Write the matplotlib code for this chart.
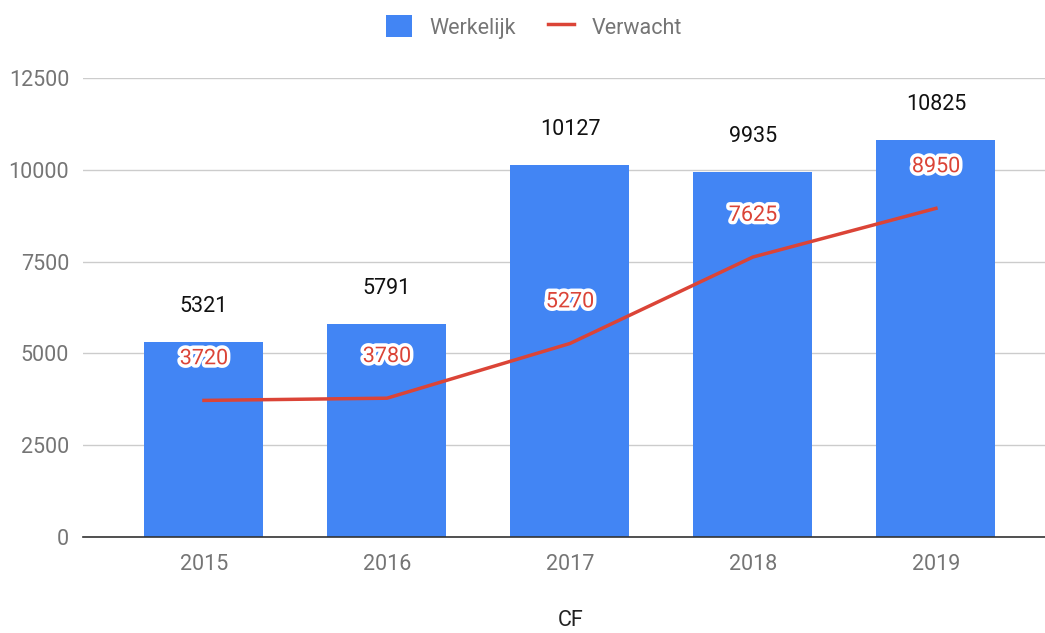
import matplotlib
matplotlib.use("Agg")
import matplotlib.pyplot as plt
import matplotlib.patheffects as pe
import numpy as np

plt.rcParams['font.family'] = ['Roboto', 'DejaVu Sans']

years = ["2015", "2016", "2017", "2018", "2019"]
werkelijk = [5321, 5791, 10127, 9935, 10825]
verwacht = [3720, 3780, 5270, 7625, 8950]
yticks = [0, 2500, 5000, 7500, 10000, 12500]

fig = plt.figure(figsize=(10.45, 6.33), dpi=100)
ax = fig.add_axes([83/1045, 1 - 537/633, (1045-83)/1045, (537-78)/633])
x = np.arange(len(years))
bars = ax.bar(x, werkelijk, width=0.65, color="#4285f4", label="Werkelijk", zorder=2)
line, = ax.plot(x, verwacht, color="#db4437", lw=2.5, label="Verwacht", zorder=3)

for xi, v in zip(x, werkelijk):
    ax.annotate(str(v), (xi, v), xytext=(0, 25.5), textcoords="offset points",
                ha="center", va="center", fontsize=15.5, color="#111111")
for xi, v in zip(x, verwacht):
    t = ax.annotate(str(v), (xi, v), xytext=(0, 30), textcoords="offset points",
                    ha="center", va="center", fontsize=15.5, color="#db4437", zorder=4)
    t.set_path_effects([pe.withStroke(linewidth=5, foreground="white")])

ax.set_xlim(-0.661, 4.596)
ax.set_ylim(0, 12500)
ax.set_yticks(yticks)
ax.set_yticklabels([str(t) for t in yticks])
ax.set_xticks(x)
ax.set_xticklabels(years)
ax.tick_params(axis="both", length=0, labelsize=15.5, colors="#757575")
ax.tick_params(axis="y", pad=10)
ax.tick_params(axis="x", pad=12)
ax.grid(axis="y", color="#cccccc", lw=1, zorder=0)
ax.set_axisbelow(True)
for s in ["top", "right", "left"]:
    ax.spines[s].set_visible(False)
ax.spines["bottom"].set_color("#333333")
ax.spines["bottom"].set_linewidth(1.2)
ax.spines["bottom"].set_zorder(5)

fig.text(571/1045, 1 - 620/633, "CF", ha="center", va="center", fontsize=15.5, color="#222222")

leg = fig.legend([bars, line], ["Werkelijk", "Verwacht"], loc="center",
                 bbox_to_anchor=(534/1045, 1 - 27/633), ncol=2, frameon=False,
                 fontsize=15.5, handlelength=1.2, handleheight=1.2, columnspacing=1.5, handletextpad=0.8)
for t in leg.get_texts():
    t.set_color("#757575")

fig.savefig("out.png", dpi=100)
